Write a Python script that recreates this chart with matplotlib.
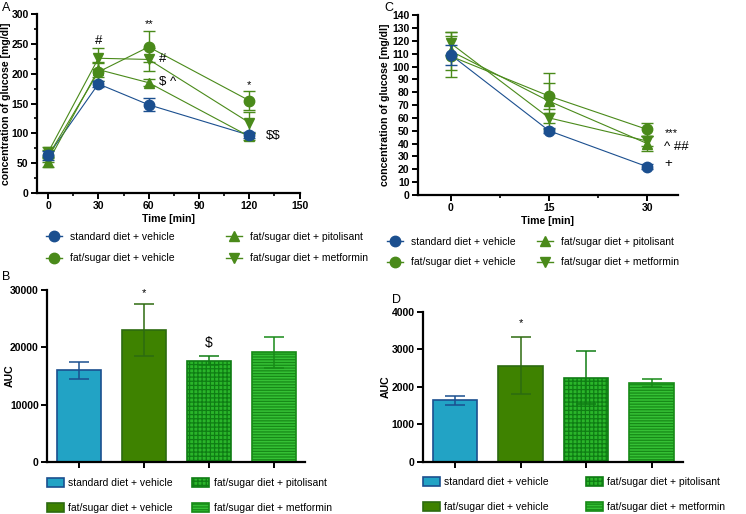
import matplotlib
matplotlib.use("Agg")
import matplotlib.pyplot as plt
from matplotlib.lines import Line2D
from matplotlib.patches import Patch
import numpy as np

plt.rcParams['font.family'] = ['Liberation Sans', 'DejaVu Sans']
plt.rcParams['hatch.linewidth'] = 0.9
plt.rcParams['text.parse_math'] = False

# ---------------- data ----------------
groups = ["standard diet + vehicle", "fat/sugar diet + vehicle",
          "fat/sugar diet + pitolisant", "fat/sugar diet + metformin"]

# Panel A: glucose tolerance
timeA = [0, 30, 60, 120]
A_std = [63, 183, 148, 97]
A_std_err = [8, 5, 11, 5]
A_fat = [62, 203, 245, 155]
A_fat_err = [10, 15, 26, 16]
A_pit = [52, 207, 185, 95]
A_pit_err = [8, 12, 6, 6]
A_met = [68, 226, 224, 118]
A_met_err = [10, 18, 20, 18]
A_annot = [(30, 255, "#", "center"), (60, 283, "**", "center"),
           (66, 224, "#", "left"), (66, 186, "$ ^", "left"),
           (120, 181, "*", "center"), (130, 95, "$$", "left")]

# Panel C: insulin tolerance
timeC = [0, 15, 30]
C_std = [109, 50, 22]
C_std_err = [8, 2, 2]
C_fat = [108, 77, 51]
C_fat_err = [16, 10, 5]
C_pit = [112, 73, 40]
C_pit_err = [15, 22, 6]
C_met = [118, 60, 42]
C_met_err = [9, 4, 4]
C_annot = [(32.6, 48, "***", "left"), (32.6, 37, "^ ##", "left"),
           (32.6, 24, "+", "left")]

# Panel B: AUC glucose
B_auc = [16000, 23000, 17700, 19100]
B_err = [1500, 4600, 800, 2700]
B_annot = [(1, 29400, "*"), (2, 20800, "$")]

# Panel D: AUC insulin
D_auc = [1640, 2570, 2250, 2100]
D_err = [110, 760, 710, 100]
D_annot = [(1, 3700, "*")]

# ---------------- styles ----------------
blue = "#1b4f8f"
green = "#4a8a1a"
bar_face = ["#22a3c5", "#3e8200", "#2ab52a", "#35c035"]
bar_edge = ["#1b4f8f", "#2d6b10", "#0f7d14", "#178a17"]
bar_hatch = [None, None, "++++", "------"]
line_markers = ["o", "o", "^", "v"]
line_colors = [blue, green, green, green]
FS_TICK = 7.5
FS_LABEL = 7.6
FS_LEG = 7.45

fig = plt.figure(figsize=(7.46, 5.14), dpi=100)

def style_axis(ax):
    for s in ["top", "right"]:
        ax.spines[s].set_visible(False)
    for s in ["left", "bottom"]:
        ax.spines[s].set_linewidth(1.6)
    ax.tick_params(axis="both", which="major", direction="out", width=1.4,
                   length=4, labelsize=FS_TICK, pad=2)
    ax.tick_params(axis="both", which="minor", direction="out", width=1.2,
                   length=2.5)
    for lab in ax.get_xticklabels() + ax.get_yticklabels():
        lab.set_fontweight("bold")

def line_panel(ax, t, series, errs, annots):
    for i, (y, e) in enumerate(zip(series, errs)):
        ax.plot(t, y, color=line_colors[i], lw=0.8, zorder=2)
    order = [1, 3, 2, 0]
    for i in order:
        y, e = series[i], errs[i]
        ax.errorbar(t, y, yerr=e, fmt=line_markers[i], color=line_colors[i],
                    ms=7.5, elinewidth=1.0, capsize=4.5, capthick=1.0,
                    lw=0, zorder=3 + (i == 0))
    for x, y, s, ha in annots:
        ax.text(x, y, s, ha=ha, va="center",
                fontsize=8 if "*" in s else 9.5)

def legend_lines(ax, y_anchor, x0, colsp, lsp):
    handles = [Line2D([], [], color=line_colors[i], marker=line_markers[i],
                      ms=7.5, lw=1.0) for i in range(4)]
    ax.legend(handles, groups, ncol=2, loc="upper left",
              bbox_to_anchor=(x0, y_anchor), bbox_transform=fig.transFigure,
              frameon=False, fontsize=FS_LEG, handlelength=1.5,
              handletextpad=0.8, columnspacing=colsp, labelspacing=lsp,
              borderaxespad=0, borderpad=0)

def legend_bars(ax, y_anchor, x0, colsp):
    handles = [Patch(facecolor=bar_face[i], edgecolor=bar_edge[i],
                     hatch=bar_hatch[i], lw=1.2) for i in range(4)]
    ax.legend(handles, groups, ncol=2, loc="upper left",
              bbox_to_anchor=(x0, y_anchor), bbox_transform=fig.transFigure,
              frameon=False, fontsize=FS_LEG, handlelength=1.6,
              handleheight=0.9, handletextpad=0.45, columnspacing=colsp,
              labelspacing=1.45, borderaxespad=0, borderpad=0)

# ---------------- Panel A ----------------
axA = fig.add_axes([0.0496, 0.6245, 0.352, 0.348])
line_panel(axA, timeA, [A_std, A_fat, A_pit, A_met],
           [A_std_err, A_fat_err, A_pit_err, A_met_err], A_annot)
axA.set_xlim(-6.6, 150)
axA.set_ylim(0, 300)
axA.set_xticks([0, 30, 60, 90, 120, 150])
axA.set_xticks([15, 45, 75, 105, 135], minor=True)
axA.set_yticks(range(0, 301, 50))
axA.set_yticks(range(25, 300, 50), minor=True)
axA.set_xlabel("Time [min]", fontsize=FS_LABEL, fontweight="bold", labelpad=2)
axA.set_ylabel("concentration of glucose [mg/dl]", fontsize=FS_LABEL,
               fontweight="bold")
axA.yaxis.set_label_coords(-0.099, 0.5)
style_axis(axA)
legend_lines(axA, 1 - 232 / 514, 46 / 746, 5.0, 1.1)
fig.text(2 / 746, 1 - 8 / 514, "A", fontsize=9, va="center", ha="left")

# ---------------- Panel C ----------------
axC = fig.add_axes([0.560, 0.6206, 0.349, 0.350])
line_panel(axC, timeC, [C_std, C_fat, C_pit, C_met],
           [C_std_err, C_fat_err, C_pit_err, C_met_err], C_annot)
axC.set_xlim(-5.05, 34.7)
axC.set_ylim(0, 140)
axC.set_xticks([0, 15, 30])
axC.set_xticks([7.5, 22.5], minor=True)
axC.set_yticks(range(0, 141, 10))
axC.set_xlabel("Time [min]", fontsize=FS_LABEL, fontweight="bold", labelpad=2)
axC.set_ylabel("concentration of glucose [mg/dl]", fontsize=FS_LABEL,
               fontweight="bold")
axC.yaxis.set_label_coords(-0.107, 0.5)
style_axis(axC)
legend_lines(axC, 1 - 237 / 514, 387 / 746, 2.1, 1.0)
fig.text(384 / 746, 1 - 8 / 514, "C", fontsize=9, va="center", ha="left")

# ---------------- bar panels ----------------
def bar_panel(ax, vals, errs, annots):
    x = np.arange(len(vals))
    for i in range(len(vals)):
        ax.bar(x[i], vals[i], width=0.68, color=bar_face[i],
               edgecolor=bar_edge[i], hatch=bar_hatch[i], lw=1.2, zorder=2)
        ax.errorbar(x[i], vals[i], yerr=errs[i], fmt="none",
                    ecolor=bar_edge[i], elinewidth=1.1, capsize=7.5,
                    capthick=1.1, zorder=3)
    for xx, yy, s in annots:
        ax.text(xx, yy, s, ha="center", va="center",
                fontsize=8 if s == "*" else 10)
    ax.set_xlim(-0.49, 3.48)
    ax.set_xticks(x)
    ax.set_xticklabels([])

axB = fig.add_axes([0.063, 0.1012, 0.346, 0.3346])
bar_panel(axB, B_auc, B_err, B_annot)
axB.set_ylim(0, 30000)
axB.set_yticks([0, 10000, 20000, 30000])
axB.set_ylabel("AUC", fontsize=FS_LABEL, fontweight="bold")
axB.yaxis.set_label_coords(-0.124, 0.5)
style_axis(axB)
legend_bars(axB, 1 - 478 / 514, 47 / 746, 1.9)
fig.text(2 / 746, 1 - 277 / 514, "B", fontsize=9, va="center", ha="left")

axD = fig.add_axes([0.567, 0.1012, 0.3485, 0.2918])
bar_panel(axD, D_auc, D_err, D_annot)
axD.set_ylim(0, 4000)
axD.set_yticks([0, 1000, 2000, 3000, 4000])
axD.set_ylabel("AUC", fontsize=FS_LABEL, fontweight="bold")
axD.yaxis.set_label_coords(-0.123, 0.5)
style_axis(axD)
legend_bars(axD, 1 - 477 / 514, 423 / 746, 3.6)
fig.text(392 / 746, 1 - 300 / 514, "D", fontsize=9, va="center", ha="left")

fig.savefig("out.png", dpi=100)
